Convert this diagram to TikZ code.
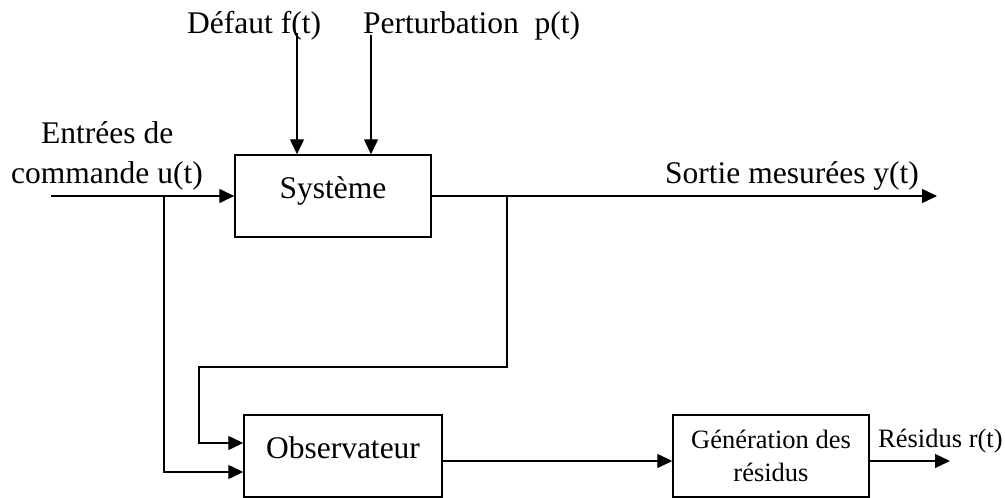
\documentclass[tikz,border=0pt]{standalone}
\usepackage{fontspec}
\setmainfont{Liberation Serif}
\usetikzlibrary{arrows.meta}

\tikzset{
  wire/.style={line width=1.3pt},
  flow/.style={wire, -{Triangle[length=15pt,width=14pt]}},
  block/.style={draw, line width=1.4pt, rectangle, inner sep=0pt,
                minimum height=82pt, text height=0.7em, text depth=0.22em,
                font=\fontsize{31.5}{36}\selectfont},
  smallblock/.style={draw, line width=1.4pt, rectangle, inner sep=0pt,
                minimum height=82pt, align=center,
                font=\fontsize{26.5}{33}\selectfont},
  lbl/.style={anchor=base west, inner sep=0pt, font=\fontsize{31.5}{36}\selectfont},
  smalllbl/.style={anchor=base west, inner sep=0pt, font=\fontsize{26.5}{33}\selectfont}
}

\begin{document}
\begin{tikzpicture}[x=1pt, y=-1pt]
\useasboundingbox (0,0) rectangle (1005,498);

% blocks
\node[block, minimum width=196pt] (sys) at (333,196) {Système};
\node[block, minimum width=198pt] (obs) at (343,456) {Observateur};
\node[smallblock, minimum width=196pt] (gen) at (771,456) {Génération des\\résidus};

% labels
\node[lbl] (ldef) at (187,33) {Défaut f(t)};
\node[lbl] (lper) at (363,33) {Perturbation\ \ p(t)};
\node[lbl] (lent) at (41,143) {Entrées de};
\node[lbl] (lcom) at (11,183) {commande u(t)};
\node[lbl] (lsor) at (665,183) {Sortie mesurées y(t)};
\node[smalllbl] (lres) at (878,447) {Résidus r(t)};

% routing points
\coordinate (fIn) at (297,33);
\coordinate (pIn) at (371,35);
\coordinate (uIn) at (51,196);
\coordinate (uBr) at (164,196);
\coordinate (yBr) at (507,196);
\coordinate (yOut) at (937,196);
\coordinate (fbR) at (507,367);
\coordinate (fbL) at (199,367);
\path (obs.west) ++(0,-13) coordinate (obsA);
\path (obs.west) ++(0,16) coordinate (obsB);
\path (obs.east) ++(0,5) coordinate (obsOut);
\coordinate (rOut) at (950,461);

% disturbances into the system
\draw[flow] (fIn) -- (fIn |- sys.north);
\draw[flow] (pIn) -- (pIn |- sys.north);

% command input and its branch to the observer
\draw[flow] (uIn) -- (sys.west);
\draw[flow] (uBr) -- (uBr |- obsB) -- (obsB);

% measured output and its feedback to the observer
\draw[flow] (sys.east) -- (yOut);
\draw[flow] (yBr) -- (fbR) -- (fbL) -- (fbL |- obsA) -- (obsA);

% observer -> residual generation -> residuals
\draw[flow] (obsOut) -- (obsOut -| gen.west);
\draw[flow] (obsOut -| gen.east) -- (rOut);
\end{tikzpicture}
\end{document}
